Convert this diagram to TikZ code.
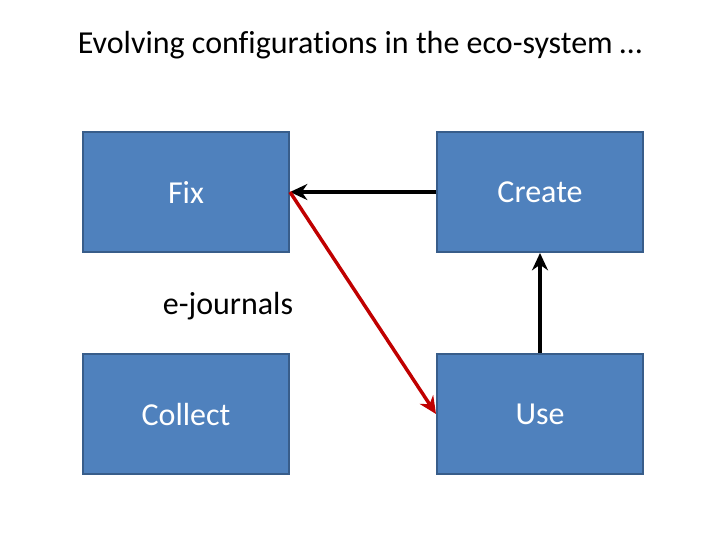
\documentclass[tikz,border=0pt]{standalone}
\usepackage{fontspec}
\setmainfont{Carlito}[RawFeature=-liga]
\usetikzlibrary{arrows.meta, positioning}
\definecolor{BoxBlue}{HTML}{4F81BD}
\definecolor{BoxEdge}{HTML}{385D8A}
\definecolor{ArrRed}{HTML}{C00000}

\begin{document}
\begin{tikzpicture}[
    x=0.75pt, y=-0.75pt, font=\fontsize{24}{28}\selectfont,
    box/.style={draw=BoxEdge, fill=BoxBlue, line width=1.5pt, text=white,
                minimum width=154.5pt, minimum height=90pt, inner sep=0pt},
    ttl/.style={font=\fontsize{24}{28}\selectfont},
    lab/.style={font=\fontsize{24}{28}\selectfont},
    a/.style={-{Stealth[length=13pt, width=12pt]}, line width=2.6pt, black},
    r/.style={-{Stealth[length=13pt, width=12pt]}, line width=2.6pt, ArrRed},
  ]
    \useasboundingbox (0,0) rectangle (720,540);
    % title
    \node[ttl] (title) at (360,45) {Evolving configurations in the eco-system …};

    % boxes
    \node[box] (fix)     at (186,192) {Fix};
    \node[box] (create)  at (540,192) {Create};
    \node[box] (collect) at (186,414) {Collect};
    \node[box] (use)     at (540,414) {Use};
    \node[lab] (ejour)   at (228,306) {e-journals};

    % arrows
    \draw[a] (create.west) -- (fix.east);
    \draw[a] (use.north) -- (create.south);
    \draw[r] (fix.east) -- (use.west);
\end{tikzpicture}
\end{document}
